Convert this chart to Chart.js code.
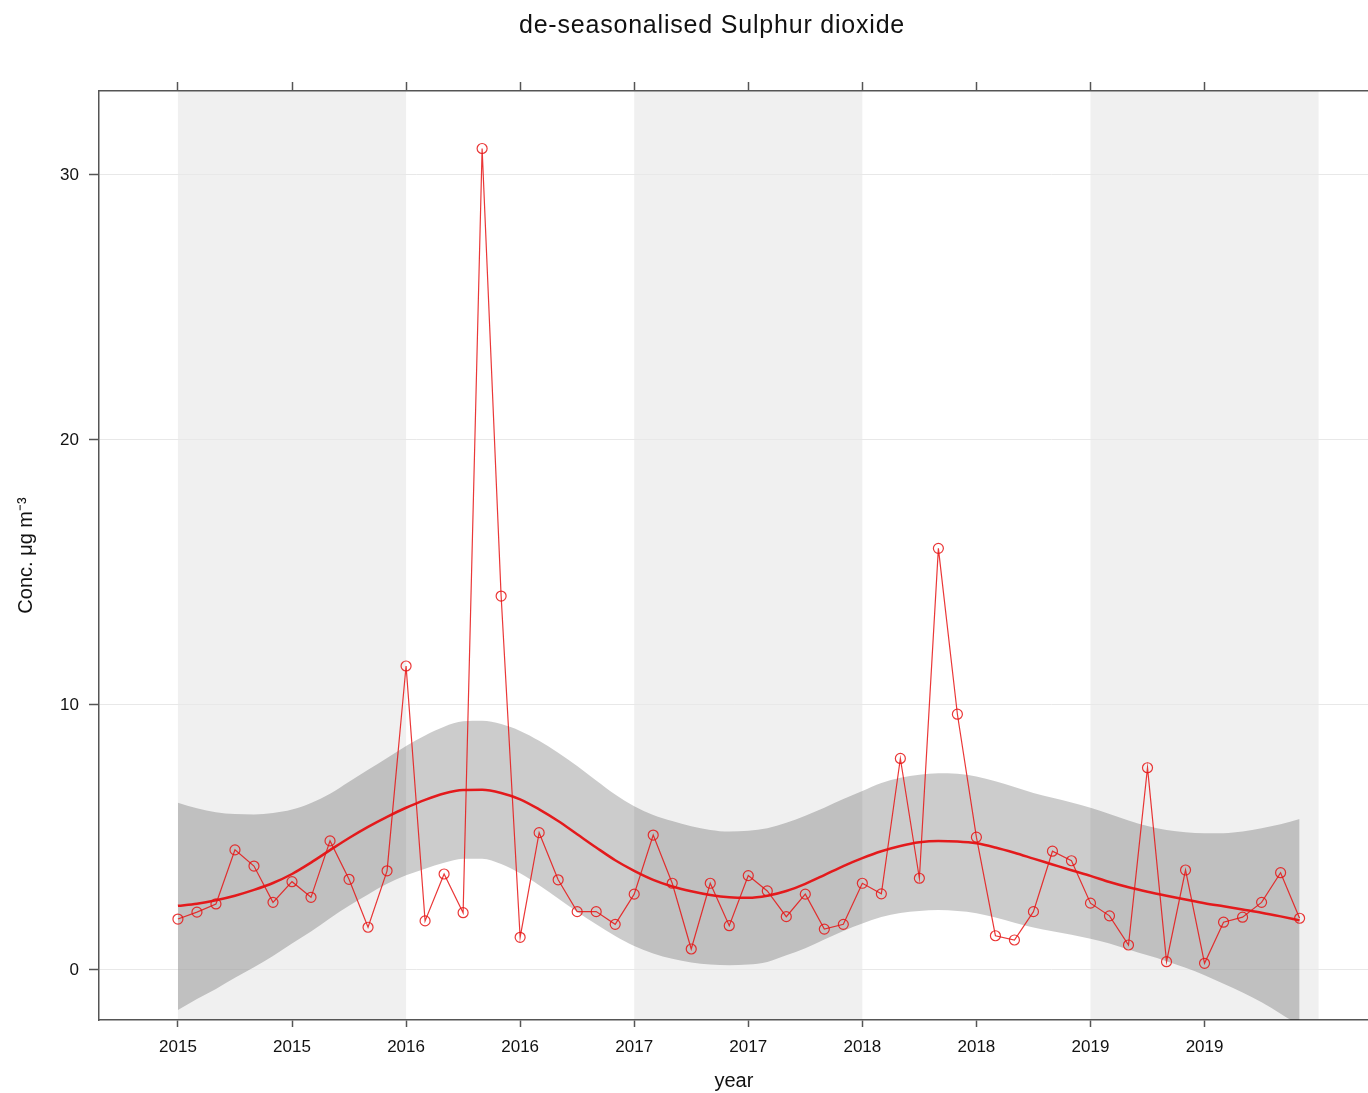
<!DOCTYPE html>
<html>
<head>
<meta charset="utf-8">
<title>de-seasonalised Sulphur dioxide</title>
<script src="https://cdn.jsdelivr.net/npm/chart.js@4/dist/chart.umd.min.js"></script>
<style>
  html, body { margin: 0; padding: 0; background: #fff; overflow: hidden; }
  #wrap { width: 1375px; height: 1093px; position: relative; }
</style>
</head>
<body>
<div id="wrap"><canvas id="so2Chart"></canvas></div>
<script>
// monthly means, de-seasonalised
const months = [
  '2015-01', '2015-02', '2015-03', '2015-04', '2015-05', '2015-06', '2015-07', '2015-08', '2015-09', '2015-10', '2015-11', '2015-12',
  '2016-01', '2016-02', '2016-03', '2016-04', '2016-05', '2016-06', '2016-07', '2016-08', '2016-09', '2016-10', '2016-11', '2016-12',
  '2017-01', '2017-02', '2017-03', '2017-04', '2017-05', '2017-06', '2017-07', '2017-08', '2017-09', '2017-10', '2017-11', '2017-12',
  '2018-01', '2018-02', '2018-03', '2018-04', '2018-05', '2018-06', '2018-07', '2018-08', '2018-09', '2018-10', '2018-11', '2018-12',
  '2019-01', '2019-02', '2019-03', '2019-04', '2019-05', '2019-06', '2019-07', '2019-08', '2019-09', '2019-10', '2019-11', '2019-12'
];

const so2 = [
  1.92, 2.18, 2.49, 4.53, 3.92, 2.55, 3.33, 2.74, 4.87, 3.42, 1.61, 3.74,
  11.47, 1.85, 3.62, 2.16, 31.0, 14.11, 1.23, 5.18, 3.40, 2.20, 2.20, 1.72,
  2.86, 5.09, 3.27, 0.79, 3.27, 1.67, 3.56, 2.98, 2.01, 2.86, 1.54, 1.72,
  3.27, 2.87, 7.98, 3.46, 15.91, 9.65, 5.01, 1.29, 1.13, 2.20, 4.48, 4.12,
  2.52, 2.04, 0.94, 7.63, 0.31, 3.77, 0.25, 1.80, 1.99, 2.55, 3.67, 1.95
];

const smoothFit = [
  2.42, 2.50, 2.63, 2.80, 3.02, 3.28, 3.62, 4.05, 4.52, 4.98, 5.40, 5.78,
  6.12, 6.42, 6.66, 6.79, 6.80, 6.68, 6.44, 6.06, 5.62, 5.12, 4.62, 4.14,
  3.74, 3.40, 3.15, 2.97, 2.83, 2.74, 2.72, 2.80, 2.98, 3.25, 3.58, 3.92,
  4.22, 4.48, 4.68, 4.82, 4.87, 4.85, 4.78, 4.62, 4.42, 4.20, 3.98, 3.76,
  3.55, 3.32, 3.12, 2.95, 2.80, 2.66, 2.52, 2.40, 2.28, 2.16, 2.02, 1.87
];

const bandUpper = [
  6.31, 6.10, 5.95, 5.88, 5.87, 5.92, 6.05, 6.30, 6.65, 7.10, 7.55, 8.00,
  8.45, 8.85, 9.18, 9.38, 9.40, 9.28, 9.02, 8.65, 8.20, 7.70, 7.15, 6.62,
  6.18, 5.85, 5.62, 5.42, 5.28, 5.22, 5.25, 5.35, 5.55, 5.82, 6.12, 6.45,
  6.75, 7.05, 7.25, 7.37, 7.42, 7.40, 7.30, 7.12, 6.90, 6.68, 6.50, 6.32,
  6.12, 5.88, 5.64, 5.43, 5.28, 5.20, 5.16, 5.16, 5.22, 5.35, 5.50, 5.70
];

const bandLower = [
  -1.51, -1.10, -0.72, -0.30, 0.10, 0.53, 1.00, 1.45, 1.95, 2.42, 2.85, 3.25,
  3.57, 3.82, 4.04, 4.20, 4.20, 4.00, 3.65, 3.20, 2.70, 2.20, 1.72, 1.28,
  0.90, 0.62, 0.42, 0.28, 0.20, 0.18, 0.20, 0.30, 0.55, 0.82, 1.15, 1.47,
  1.75, 2.00, 2.15, 2.22, 2.26, 2.22, 2.14, 1.98, 1.78, 1.60, 1.46, 1.33,
  1.18, 1.00, 0.77, 0.55, 0.33, 0.08, -0.20, -0.52, -0.85, -1.22, -1.65, -2.10
];

const xTickValues = [2015, 2015.5, 2016, 2016.5, 2017, 2017.5, 2018, 2018.5, 2019, 2019.5];
const xTickLabels = ['2015', '2015', '2016', '2016', '2017', '2017', '2018', '2018', '2019', '2019'];
const yTickValues = [0, 10, 20, 30];
const shadedYears = [2015, 2017, 2019];

function monthToYear(m) {
    const [yy, mm] = m.split('-').map(Number);
    return yy + (mm - 1) / 12;
}

function toPoints(values) {
    return values.map((v, i) => ({ x: monthToYear(months[i]), y: v }));
}

const FONT = "'Liberation Sans', Arial, sans-serif";
const AXIS_COL = '#555';

const shadePlugin = {
    id: 'yearShade',
    beforeDraw(chart) {
        const { ctx, chartArea, scales } = chart;
        const x = scales.x;
        ctx.save();
        ctx.fillStyle = '#f0f0f0';
        shadedYears.forEach(yr => {
            const x0 = x.getPixelForValue(yr);
            const x1 = x.getPixelForValue(yr + 1);
            ctx.fillRect(x0, chartArea.top, x1 - x0, chartArea.bottom - chartArea.top);
        });
        ctx.restore();
    }
};

const titlePlugin = {
    id: 'mainTitle',
    afterDraw(chart) {
        const ctx = chart.ctx;
        ctx.save();
        ctx.font = `25px ${FONT}`;
        ctx.letterSpacing = '0.8px';
        ctx.fillStyle = '#111';
        ctx.textAlign = 'center';
        ctx.textBaseline = 'alphabetic';
        ctx.fillText('de-seasonalised Sulphur dioxide', 712, 33);
        ctx.restore();
    }
};

const xTicksSetup = scale => {
    scale.ticks = xTickValues.map(v => ({ value: v }));
};

const ctx = document.getElementById('so2Chart').getContext('2d');

new Chart(ctx, {
    type: 'line',
    data: {
        datasets: [
            {
                label: 'SO2',
                data: toPoints(so2),
                borderColor: 'rgba(230, 20, 20, 0.85)',
                borderWidth: 1.2,
                pointStyle: 'circle',
                pointRadius: 5,
                pointBorderWidth: 1.2,
                pointBorderColor: 'rgba(230, 20, 20, 0.85)',
                pointBackgroundColor: 'rgba(0,0,0,0)',
                fill: false,
                tension: 0
            },
            {
                label: 'trend',
                data: toPoints(smoothFit),
                borderColor: '#e31a1c',
                borderWidth: 2.5,
                pointRadius: 0,
                fill: false,
                cubicInterpolationMode: 'monotone'
            },
            {
                label: 'upper',
                data: toPoints(bandUpper),
                borderWidth: 0,
                borderColor: 'rgba(0,0,0,0)',
                pointRadius: 0,
                fill: false,
                cubicInterpolationMode: 'monotone'
            },
            {
                label: 'lower',
                data: toPoints(bandLower),
                borderWidth: 0,
                borderColor: 'rgba(0,0,0,0)',
                backgroundColor: 'rgba(0,0,0,0.2)',
                pointRadius: 0,
                fill: '-1',
                cubicInterpolationMode: 'monotone'
            }
        ]
    },
    options: {
        responsive: true,
        maintainAspectRatio: false,
        animation: false,
        layout: { padding: 0 },
        plugins: {
            legend: { display: false },
            tooltip: { enabled: false },
            title: { display: false }
        },
        scales: {
            x: {
                type: 'linear',
                position: 'bottom',
                min: 2014.654,
                max: 2020.22,
                afterBuildTicks: xTicksSetup,
                afterFit: s => { s.height = 73; },
                ticks: {
                    callback: (v, i) => xTickLabels[i],
                    color: '#111',
                    font: { family: FONT, size: 17 },
                    padding: 10,
                    maxRotation: 0,
                    autoSkip: false
                },
                grid: {
                    drawOnChartArea: false,
                    drawTicks: true,
                    tickLength: 7,
                    tickColor: AXIS_COL,
                    tickWidth: 1.5
                },
                border: { display: true, color: AXIS_COL, width: 1.5 },
                title: {
                    display: true,
                    text: 'year',
                    color: '#111',
                    font: { family: FONT, size: 20 },
                    padding: { top: 0, bottom: 0 }
                }
            },
            xTop: {
                type: 'linear',
                position: 'top',
                min: 2014.654,
                max: 2020.22,
                afterBuildTicks: xTicksSetup,
                afterFit: s => { s.height = 91; },
                ticks: { display: false },
                grid: {
                    drawOnChartArea: false,
                    drawTicks: true,
                    tickLength: 9,
                    tickColor: AXIS_COL,
                    tickWidth: 1.5
                },
                border: { display: true, color: AXIS_COL, width: 1.5 }
            },
            y: {
                type: 'linear',
                position: 'left',
                min: -1.89,
                max: 33.17,
                afterBuildTicks: s => { s.ticks = yTickValues.map(v => ({ value: v })); },
                afterFit: s => { s.width = 99; },
                ticks: {
                    color: '#111',
                    font: { family: FONT, size: 17 },
                    padding: 10
                },
                grid: {
                    color: '#e8e8e8',
                    lineWidth: 1,
                    drawTicks: true,
                    tickLength: 10,
                    tickColor: AXIS_COL,
                    tickWidth: 1.5
                },
                border: { display: true, color: AXIS_COL, width: 1.5 },
                title: {
                    display: true,
                    text: 'Conc. μg m⁻³',
                    color: '#111',
                    font: { family: FONT, size: 20 },
                    padding: { top: 14, bottom: 0 }
                }
            }
        }
    },
    plugins: [shadePlugin, titlePlugin]
});
</script>
</body>
</html>
